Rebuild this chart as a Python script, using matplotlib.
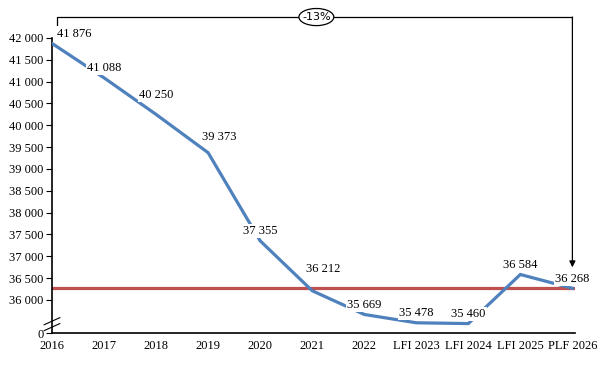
import matplotlib
matplotlib.use("Agg")
import matplotlib.pyplot as plt
from matplotlib.patches import Ellipse
import matplotlib.transforms as mtransforms

plt.rcParams['font.family'] = ['Liberation Serif', 'DejaVu Serif']

# data
years = ['2016', '2017', '2018', '2019', '2020', '2021', '2022',
         'LFI 2023', 'LFI 2024', 'LFI 2025', 'PLF 2026']
values = [41876, 41088, 40250, 39373, 37355, 36212, 35669, 35478, 35460, 36584, 36268]
labels = ['41 876', '41 088', '40 250', '39 373', '37 355', '36 212', '35 669',
          '35 478', '35 460', '36 584', '36 268']
yticks = [36000, 36500, 37000, 37500, 38000, 38500, 39000, 39500,
          40000, 40500, 41000, 41500, 42000]
ref_level = values[-1]
change_txt = '-13%'

# label offsets in points (dx, dy)
offs = [(16, 7), (0, 7), (0, 14), (8, 11), (0, 7), (8, 16), (0, 7), (0, 7), (0, 7), (0, 7), (0, 7)]

fig = plt.figure(figsize=(6.13, 3.7), dpi=100)
ax = fig.add_axes([52/613, 37/370, 523/613, 295/370])

x = list(range(len(years)))
ax.axhline(ref_level, color='#C0504D', lw=2.3, zorder=2)
ax.plot(x, values, color='#4F81BD', lw=2.3, zorder=3, solid_joinstyle='miter')

for xi, v, lab, (dx, dy) in zip(x, values, labels, offs):
    ax.annotate(lab, (xi, v), xytext=(dx, dy), textcoords='offset points',
                ha='center', va='center', fontsize=9, zorder=4,
                bbox=dict(boxstyle='square,pad=0.1', fc='white', ec='none'))

ybottom = 36000 - 33 / 21.83 * 500
ax.set_ylim(ybottom, 42000)
ax.set_xlim(0, 10.05)
ax.set_yticks([ybottom] + yticks)
ax.set_yticklabels(['0'] + [f'{t:,}'.replace(',', ' ') for t in yticks], fontsize=9)
ax.set_xticks(x)
ax.set_xticklabels(years, fontsize=9)
ax.tick_params(axis='x', length=0, pad=5)
ax.tick_params(axis='y', length=4, width=0.8, direction='out', pad=2)
for s in ['top', 'right']:
    ax.spines[s].set_visible(False)
for s in ['left', 'bottom']:
    ax.spines[s].set_linewidth(1.2)

# axis break marks
trans_ax = ax.transAxes
for yy in [0.02, 0.04]:
    ax.plot([-0.015, 0.015], [yy - 0.012, yy + 0.012], transform=trans_ax,
            color='black', lw=0.8, clip_on=False, zorder=5)

# bracket annotation
blend = mtransforms.blended_transform_factory(ax.transData, ax.transAxes)
ax.plot([0.1, 0.1, 10], [1.034, 1.071, 1.071], transform=blend,
        color='black', lw=0.9, clip_on=False)
ax.annotate('', xy=(10, ref_level + 480), xycoords='data',
            xytext=(10, 1.071), textcoords=blend,
            arrowprops=dict(arrowstyle='-|>', color='black', lw=0.9,
                            shrinkA=0, shrinkB=0, mutation_scale=9),
            annotation_clip=False)
ell = Ellipse((5.08, 1.071), width=0.67, height=0.058, transform=blend,
              fc='white', ec='black', lw=0.9, clip_on=False, zorder=6)
ax.add_patch(ell)
ax.text(5.08, 1.071, change_txt, transform=blend, ha='center', va='center',
        fontsize=8, zorder=7, family=['DejaVu Sans'])

fig.savefig('out.png', dpi=100)
